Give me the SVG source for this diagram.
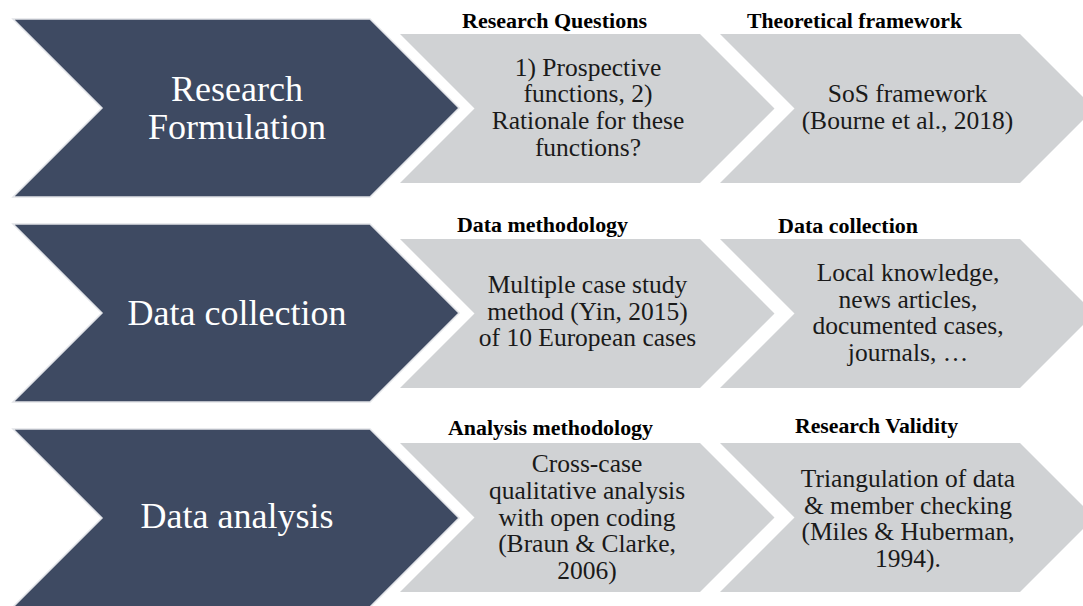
<svg xmlns="http://www.w3.org/2000/svg" width="1083" height="606" viewBox="0 0 1083 606">
<style>
.dark{fill:#3e4a62;stroke:#e2e4e8;stroke-width:1.5}
.gray{fill:#d0d2d4}
.big{font-family:'Liberation Serif','Times New Roman',Times,'DejaVu Serif',serif;font-size:36px;font-weight:normal;fill:#ffffff;text-anchor:middle}
.body{font-family:'Liberation Serif','Times New Roman',Times,'DejaVu Serif',serif;font-size:25.5px;font-weight:normal;fill:#1a1a1a;text-anchor:middle}
.head{font-family:'Liberation Serif','Times New Roman',Times,'DejaVu Serif',serif;font-size:20px;font-weight:bold;fill:#000000;text-anchor:middle}
</style>
<rect width="1083" height="606" fill="#ffffff"/>
<g id="connectors"></g>

<g id="row1-stage">
<polygon class="dark" points="13,19 370,19 459,108 370,197 13,197 102,108"/>
<text class="big" x="237" y="100.5">Research</text>
<text class="big" x="237" y="138.5">Formulation</text>
</g>
<g id="row1-questions">
<text class="head" x="554.5" y="28" textLength="185" lengthAdjust="spacingAndGlyphs">Research Questions</text>
<polygon class="gray" points="400,34 700,34 774.5,108.5 700,183 400,183 474.5,108.5"/>
<text class="body" x="588" y="75.5">1) Prospective</text>
<text class="body" x="588" y="102.2">functions, 2)</text>
<text class="body" x="588" y="128.9">Rationale for these</text>
<text class="body" x="588" y="155.6">functions?</text>
</g>
<g id="row1-framework">
<text class="head" x="854.5" y="28" textLength="215" lengthAdjust="spacingAndGlyphs">Theoretical framework</text>
<polygon class="gray" points="720,34 1020,34 1094.5,108.5 1020,183 720,183 794.5,108.5"/>
<text class="body" x="907.5" y="102">SoS framework</text>
<text class="body" x="907.5" y="128.7">(Bourne et al., 2018)</text>
</g>

<g id="row2-stage">
<polygon class="dark" points="13,224 370,224 459,313 370,402 13,402 102,313"/>
<text class="big" x="237" y="325">Data collection</text>
</g>
<g id="row2-methodology">
<text class="head" x="542.5" y="232" textLength="171" lengthAdjust="spacingAndGlyphs">Data methodology</text>
<polygon class="gray" points="400,239 700,239 774.5,313.5 700,388 400,388 474.5,313.5"/>
<text class="body" x="587.5" y="293">Multiple case study</text>
<text class="body" x="587.5" y="319.7">method (Yin, 2015)</text>
<text class="body" x="587.5" y="346.4">of 10 European cases</text>
</g>
<g id="row2-collection">
<text class="head" x="848" y="233" textLength="140" lengthAdjust="spacingAndGlyphs">Data collection</text>
<polygon class="gray" points="720,239 1020,239 1094.5,313.5 1020,388 720,388 794.5,313.5"/>
<text class="body" x="908" y="281">Local knowledge,</text>
<text class="body" x="908" y="307.7">news articles,</text>
<text class="body" x="908" y="334.4">documented cases,</text>
<text class="body" x="908" y="361.1">journals, …</text>
</g>

<g id="row3-stage">
<polygon class="dark" points="13,429 370,429 459,518 370,607 13,607 102,518"/>
<text class="big" x="237" y="528">Data analysis</text>
</g>
<g id="row3-methodology">
<text class="head" x="550.5" y="435" textLength="205" lengthAdjust="spacingAndGlyphs">Analysis methodology</text>
<polygon class="gray" points="400,443 700,443 774.5,517.5 700,592 400,592 474.5,517.5"/>
<text class="body" x="587" y="472">Cross-case</text>
<text class="body" x="587" y="498.8">qualitative analysis</text>
<text class="body" x="587" y="525.6">with open coding</text>
<text class="body" x="587" y="552.4">(Braun &amp; Clarke,</text>
<text class="body" x="587" y="579.2">2006)</text>
</g>
<g id="row3-validity">
<text class="head" x="876.5" y="433" textLength="163" lengthAdjust="spacingAndGlyphs">Research Validity</text>
<polygon class="gray" points="720,443 1020,443 1094.5,517.5 1020,592 720,592 794.5,517.5"/>
<text class="body" x="908" y="487">Triangulation of data</text>
<text class="body" x="908" y="513.7">&amp; member checking</text>
<text class="body" x="908" y="540.4">(Miles &amp; Huberman,</text>
<text class="body" x="908" y="567.1">1994).</text>
</g>
</svg>
